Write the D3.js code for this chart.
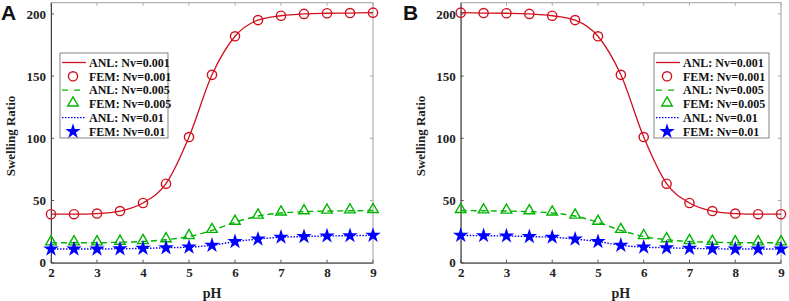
<!DOCTYPE html>
<html>
<head>
<meta charset="utf-8">
<script src="https://cdn.jsdelivr.net/npm/d3@7"></script>
<style>
  body { margin: 0; background: #fff; }
  svg { display: block; }
  text { font-family: "Liberation Serif", "Times New Roman", serif; font-weight: bold; }
</style>
</head>
<body>
<div class="d3Chart"></div>
<script>
// pH values (FEM points)
var phValues = [2, 2.5, 3, 3.5, 4, 4.5, 5, 5.5, 6, 6.5, 7, 7.5, 8, 8.5, 9];

// panel A: swelling increases with pH
var aNv001 = [39, 39, 39.5, 41.5, 48, 63.5, 101, 151, 182, 195, 198.5, 200, 200.5, 200.7, 201];
var aNv005 = [16, 16, 16, 16.5, 17, 18.5, 21, 26, 32.5, 37.5, 40, 41, 41.5, 41.7, 42];
var aNv01 = [11, 11, 11, 11.2, 11.5, 12, 12.5, 14, 17, 19, 20.5, 21, 21.5, 21.7, 22];

// panel B: swelling decreases with pH
var bNv001 = [201, 200.7, 200.5, 200, 198.5, 195, 182, 151, 101, 63.5, 48, 41.5, 39.5, 39, 39];
var bNv005 = [42, 41.7, 41.5, 41, 40, 37.5, 32.5, 26, 21, 18.5, 17, 16.5, 16, 16, 16];
var bNv01 = [22, 21.7, 21.5, 21, 20.5, 19, 17, 14, 12.5, 12, 11.5, 11.2, 11, 11, 11];

var xTicks = [2, 3, 4, 5, 6, 7, 8, 9];
var yTicks = [0, 50, 100, 150, 200];
var legendLabels = ["ANL: Nv=0.001", "FEM: Nv=0.001", "ANL: Nv=0.005", "FEM: Nv=0.005", "ANL: Nv=0.01", "FEM: Nv=0.01"];

var red = "#d0101e";
var green = "#00b400";
var blue = "#0000ff";

var width = 789;
var height = 301;
var svg = d3.select(".d3Chart")
  .append("svg")
  .attr("width", width)
  .attr("height", height);

var star = d3.symbol().type(d3.symbolStar).size(75);
var tri = d3.symbol().type(d3.symbolTriangle).size(48);

function drawPanel(opt) {
  var x = d3.scaleLinear().domain([2, 9]).range([opt.left, opt.right]);
  var y = d3.scaleLinear().domain([0, 209]).range([262.7, 2.7]);
  var g = svg.append("g");

  // frame: top/right lighter
  g.append("rect")
    .attr("x", opt.left).attr("y", y(209))
    .attr("width", opt.right - opt.left).attr("height", y(0) - y(209))
    .attr("fill", "none").attr("stroke", "#a0a0a0").attr("stroke-width", 1);

  // ticks on all four sides, pointing in
  xTicks.forEach(function (t) {
    g.append("line").attr("x1", x(t)).attr("x2", x(t)).attr("y1", y(0)).attr("y2", y(0) - 3).attr("stroke", "#555");
    g.append("line").attr("x1", x(t)).attr("x2", x(t)).attr("y1", y(209)).attr("y2", y(209) + 3).attr("stroke", "#aaa");
  });
  yTicks.forEach(function (t) {
    g.append("line").attr("x1", opt.left).attr("x2", opt.left + 3).attr("y1", y(t)).attr("y2", y(t)).attr("stroke", "#555");
    g.append("line").attr("x1", opt.right).attr("x2", opt.right - 3).attr("y1", y(t)).attr("y2", y(t)).attr("stroke", "#aaa");
  });

  // x axis
  var xAxis = g.append("g")
    .attr("transform", "translate(0," + y(0) + ")")
    .call(d3.axisBottom(x).tickValues(xTicks).tickSize(0).tickPadding(5).tickFormat(d3.format("d")));
  xAxis.select(".domain").attr("stroke", "#444");
  xAxis.selectAll("text").attr("font-size", 13).attr("fill", "#222")
    .style("font-family", "Liberation Serif").style("font-weight", "bold");

  // y axis
  var yAxis = g.append("g")
    .attr("transform", "translate(" + opt.left + ",0)")
    .call(d3.axisLeft(y).tickValues(yTicks).tickSize(0).tickPadding(5));
  yAxis.select(".domain").attr("stroke", "#444");
  yAxis.selectAll("text").attr("font-size", 13).attr("fill", "#222")
    .style("font-family", "Liberation Serif").style("font-weight", "bold");

  // axis titles
  g.append("text")
    .attr("x", (opt.left + opt.right) / 2).attr("y", 298)
    .attr("text-anchor", "middle").attr("font-size", 14).attr("fill", "#222")
    .text("pH");
  g.append("text")
    .attr("transform", "translate(" + (opt.left - 36) + "," + 136 + ") rotate(-90)")
    .attr("text-anchor", "middle").attr("font-size", 13).attr("fill", "#222")
    .text("Swelling Ratio");

  // panel letter
  g.append("text")
    .attr("x", opt.letterX).attr("y", 20)
    .style("font-family", "Liberation Sans").attr("font-size", 21).attr("fill", "#111")
    .text(opt.letter);

  var line = d3.line().x(function (d, i) { return x(phValues[i]); }).y(function (d) { return y(d); })
    .curve(d3.curveMonotoneX);

  // lines
  g.append("path").attr("d", line(opt.s005)).attr("fill", "none")
    .attr("stroke", green).attr("stroke-width", 1.4).attr("stroke-dasharray", "6,4");
  g.append("path").attr("d", line(opt.s01)).attr("fill", "none")
    .attr("stroke", blue).attr("stroke-width", 1.4).attr("stroke-dasharray", "1.5,1.5");
  g.append("path").attr("d", line(opt.s001)).attr("fill", "none")
    .attr("stroke", red).attr("stroke-width", 1.3);

  // markers
  g.selectAll(null).data(opt.s001).enter().append("circle")
    .attr("cx", function (d, i) { return x(phValues[i]); })
    .attr("cy", function (d) { return y(d); })
    .attr("r", 4.6).attr("fill", "none").attr("stroke", red).attr("stroke-width", 1.4);
  g.selectAll(null).data(opt.s005).enter().append("path")
    .attr("d", tri)
    .attr("transform", function (d, i) { return "translate(" + x(phValues[i]) + "," + (y(d) - 1) + ")"; })
    .attr("fill", "none").attr("stroke", green).attr("stroke-width", 1.4);
  g.selectAll(null).data(opt.s01).enter().append("path")
    .attr("d", star)
    .attr("transform", function (d, i) { return "translate(" + x(phValues[i]) + "," + y(d) + ")"; })
    .attr("fill", blue);

  // legend
  var lg = g.append("g").attr("transform", "translate(" + opt.legX + "," + opt.legY + ")");
  lg.append("rect").attr("x", 0).attr("y", 0).attr("width", opt.legW).attr("height", 85)
    .attr("fill", "#fff").attr("stroke", "#666").attr("stroke-width", 0.8);
  legendLabels.forEach(function (lab, i) {
    var cy = 9.5 + i * 13.8;
    var sx = 13;
    if (i === 0) lg.append("line").attr("x1", 2).attr("x2", 26).attr("y1", cy).attr("y2", cy).attr("stroke", red).attr("stroke-width", 1.3);
    if (i === 1) lg.append("circle").attr("cx", sx).attr("cy", cy).attr("r", 4.6).attr("fill", "none").attr("stroke", red).attr("stroke-width", 1.4);
    if (i === 2) lg.append("line").attr("x1", 2).attr("x2", 26).attr("y1", cy).attr("y2", cy).attr("stroke", green).attr("stroke-width", 1.4).attr("stroke-dasharray", "6,6");
    if (i === 3) lg.append("path").attr("d", tri).attr("transform", "translate(" + sx + "," + (cy - 1) + ")").attr("fill", "none").attr("stroke", green).attr("stroke-width", 1.4);
    if (i === 4) lg.append("line").attr("x1", 2).attr("x2", 26).attr("y1", cy).attr("y2", cy).attr("stroke", blue).attr("stroke-width", 1.3).attr("stroke-dasharray", "1.5,1.5");
    if (i === 5) lg.append("path").attr("d", star).attr("transform", "translate(" + sx + "," + cy + ")").attr("fill", blue);
    lg.append("text").attr("x", 29).attr("y", cy + 4.2).attr("font-size", 12).attr("fill", "#111").text(lab);
  });
}

drawPanel({ left: 51, right: 373, letter: "A", letterX: 1, legX: 60, legY: 53, legW: 108,
  s001: aNv001, s005: aNv005, s01: aNv01 });
drawPanel({ left: 460.7, right: 781, letter: "B", letterX: 403, legX: 654, legY: 53, legW: 115,
  s001: bNv001, s005: bNv005, s01: bNv01 });
</script>
</body>
</html>
